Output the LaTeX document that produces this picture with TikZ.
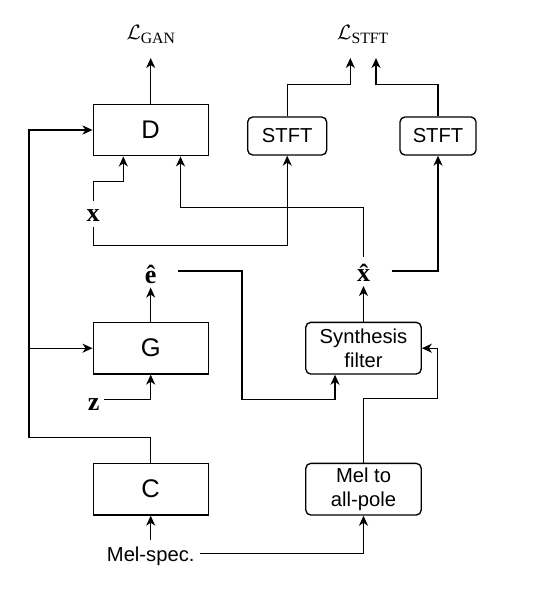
\documentclass[tikz,border=0pt]{standalone}
\usepackage{amsmath}
\usepackage{fontspec}
\setmainfont{Liberation Serif}
\newfontfamily\boxfont{Liberation Sans}
\usetikzlibrary{arrows.meta}
\begin{document}
\begin{tikzpicture}[x=1pt,y=-1pt,
  line width=1.35pt,
  arr/.style={-{Stealth[length=10pt,width=9pt,inset=3pt]}},
  bigbox/.style={draw, rectangle, minimum width=115pt, minimum height=51.5pt, inner sep=0pt,
    font=\boxfont\fontsize{25.5}{30}\selectfont},
  rbox/.style={draw, rectangle, rounded corners=5pt, minimum height=38pt, inner sep=0pt,
    align=center, font=\boxfont\fontsize{20.2}{24}\selectfont},
  sym/.style={inner sep=0pt, anchor=base, font=\fontsize{26}{30}\selectfont\bfseries},
  loss/.style={inner sep=0pt, anchor=base, font=\fontsize{22.5}{26}\selectfont},
  lbl/.style={inner sep=0pt, anchor=base, text depth=0pt, font=\boxfont\fontsize{20.2}{24}\selectfont},
]
\useasboundingbox (0,0) rectangle (538,607);

% boxes
\node[bigbox] (D) at (150.7,130) {D};
\node[bigbox] (G) at (150.7,348.2) {G};
\node[bigbox] (C) at (150.7,489.2) {C};
\node[rbox, minimum width=79pt] (S1) at (287.2,136) {STFT};
\node[rbox, minimum width=76pt] (S2) at (438,136) {STFT};
\node[rbox, minimum width=115.4pt, minimum height=51.7pt] (SF) at (363.5,348.2) {Synthesis\\filter};
\node[rbox, minimum width=115.4pt, minimum height=51.7pt] (M2A) at (363.5,489.2) {Mel to\\all-pole};

% labels
\node[loss] (Lgan) at (151,40) {$\mathcal{L}_{\text{GAN}}$};
\node[loss] (Lstft) at (363,40) {$\mathcal{L}_{\text{STFT}}$};
\node[sym] (x) at (93.2,221.7) {x};
\node[sym] (xh) at (363.5,281.3) {\^x};
\node[sym] (eh) at (150.7,283.3) {\^e};
\node[sym] (z) at (93.7,410) {z};
\node[lbl] (mel) at (150.7,561) {Mel-spec.};

% helper coordinates
\coordinate (tg) at (150.7,58);
\coordinate (ts1) at (350.3,58);
\coordinate (ts2) at (376,58);
\coordinate (busTop) at (29.1,130);
\coordinate (Din1) at ([xshift=-27.4pt]D.south);
\coordinate (Din2) at ([xshift=29.8pt]D.south);
\coordinate (SFin) at ([xshift=-28.5pt]SF.south);

% connectors
\draw[arr] (D.north) -- (tg);
\draw[arr] (S1.north) -- ++(0,-32) -| (ts1);
\draw[arr] (S2.north) -- ++(0,-32) -| (ts2);
\draw[arr] ([yshift=21pt]x.base) -- ++(0,-19) -| (Din1);
\draw[arr] ([yshift=-5pt]x.base) -- ++(0,19) -| (S1.south);
\draw[arr] ([yshift=24.6pt]xh.base) -- ++(0,-49.4) -| (Din2);
\draw[arr] ([xshift=28.2pt,yshift=10.3pt]xh.base) -| (S2.south);
\draw[arr] (SF.north) -- ([yshift=-4.7pt]xh.base);
\draw[arr] (G.north) -- ([yshift=-4.3pt]eh.base);
\draw[arr] ([xshift=27.3pt,yshift=12.3pt]eh.base) -- ++(64.1,0) -- ++(0,128.3) -| (SFin);
\draw[arr] ([xshift=10.6pt,yshift=10.7pt]z.base) -| (G.south);
\draw[arr] ([yshift=21pt]mel.base) -- (C.south);
\draw[arr] ([xshift=49pt,yshift=7.7pt]mel.base) -| (M2A.south);
\draw[arr] (M2A.north) -- ++(0,-64) -- ++(74.2,0) |- (SF.east);
\draw[arr] (C.north) -- ++(0,-25.4) -| (busTop) -- (D.west);
\draw[arr] (busTop |- G.west) -- (G.west);
\end{tikzpicture}
\end{document}
